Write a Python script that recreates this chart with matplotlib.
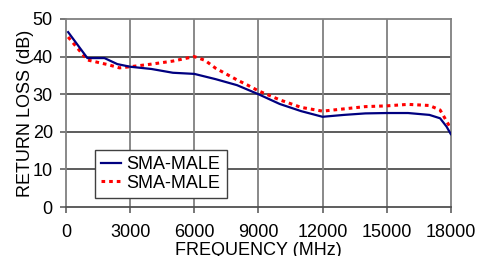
import numpy as np
import matplotlib.pyplot as plt

plt.rcParams['font.family'] = ['Liberation Sans', 'DejaVu Sans']

freq_blue = [100, 1000, 1800, 2400, 3000, 4000, 5000, 6000, 7000, 8000, 9000,
             10000, 11000, 12000, 13000, 14000, 15000, 16000, 17000, 17500, 17800, 18000]
rl_blue = [46.5, 39.6, 39.6, 38.0, 37.3, 36.7, 35.7, 35.4, 34.0, 32.4, 30.0,
           27.4, 25.5, 24.0, 24.5, 24.9, 25.0, 25.0, 24.5, 23.6, 21.4, 19.4]

freq_red = [100, 1000, 2000, 2500, 3000, 4000, 5000, 6000, 6500, 7000, 8000, 8500, 9000,
            10000, 11000, 12000, 13000, 14000, 15000, 16000, 17000, 17500, 18000]
rl_red = [45.2, 39.1, 37.8, 37.0, 37.3, 38.0, 38.8, 40.0, 39.0, 36.9, 33.8, 32.4, 30.9,
          28.5, 26.5, 25.5, 26.1, 26.7, 26.9, 27.3, 27.0, 25.8, 20.9]

labels = ['SMA-MALE', 'SMA-MALE']
xticks = [0, 3000, 6000, 9000, 12000, 15000, 18000]
yticks = [0, 10, 20, 30, 40, 50]

fig = plt.figure(figsize=(4.9, 2.56), dpi=100)
ax = fig.add_axes([0.1347, 0.191, 0.7853, 0.735])

for y in yticks[1:-1]:
    ax.axhline(y, color='#303030', lw=1.1, zorder=1)
for x in xticks[1:-1]:
    ax.axvline(x, color='#808080', lw=1.3, zorder=1)

ax.plot(freq_blue, rl_blue, color='#000080', lw=1.6, label=labels[0], zorder=3)
ax.plot(freq_red, rl_red, color='#ff0000', lw=2.2, ls=(0, (1.2, 1.3)), label=labels[1], zorder=2)

ax.set_xlim(0, 18000)
ax.set_ylim(0, 50)
ax.set_xticks(xticks)
ax.set_yticks(yticks)
ax.tick_params(labelsize=13, color='#606060', length=4.5, width=1.2)
ax.tick_params(axis='x', pad=8)
ax.tick_params(axis='y', pad=5)
for s in ax.spines.values():
    s.set_color('#808080')
    s.set_linewidth(1.3)
ax.spines['bottom'].set_color('#505050')

ax.set_xlabel('FREQUENCY (MHz)', fontsize=13, labelpad=0.5)
ax.set_ylabel('RETURN LOSS (dB)', fontsize=13, labelpad=-1)

leg = ax.legend(loc='lower left', bbox_to_anchor=(0.075, 0.048), borderaxespad=0,
                fontsize=13, fancybox=False, framealpha=1, edgecolor='#404040',
                handlelength=1.1, handletextpad=0.3, borderpad=0.35, labelspacing=0.1)
leg.get_frame().set_linewidth(1.0)

fig.savefig('out.png', dpi=100)
